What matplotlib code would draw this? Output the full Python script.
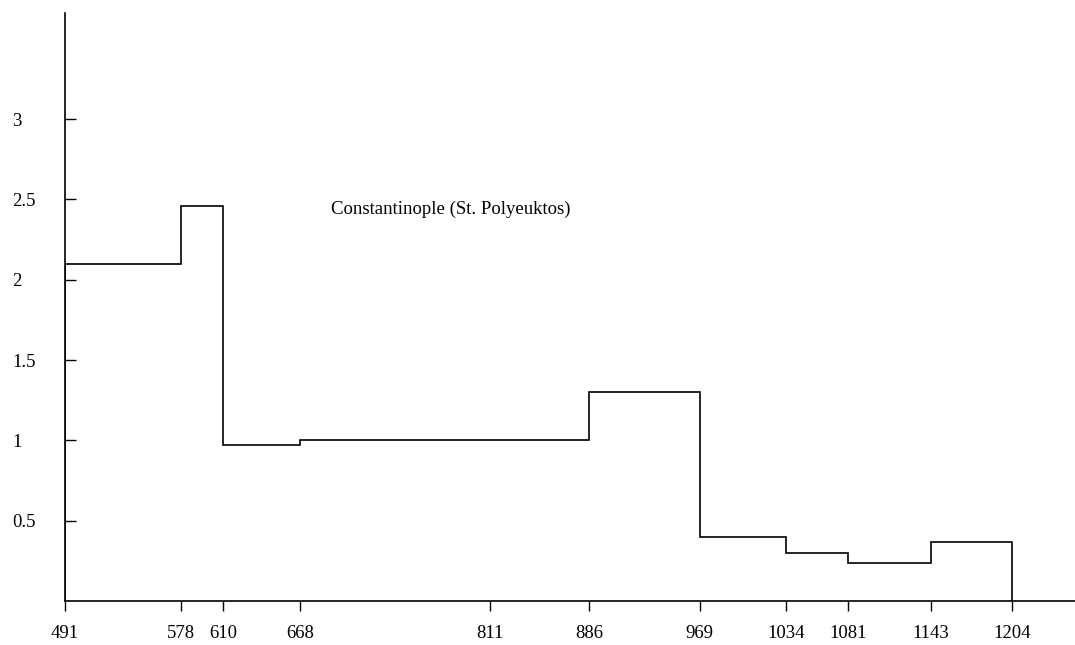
import matplotlib
matplotlib.use("Agg")
import matplotlib.pyplot as plt

plt.rcParams['font.family'] = ['Liberation Serif', 'DejaVu Serif']

# period boundaries (years) and the value for each period
edges = [491, 578, 610, 668, 886, 969, 1034, 1081, 1143, 1204]
values = [2.1, 2.46, 0.97, 1.0, 1.3, 0.4, 0.3, 0.235, 0.367]

xticks = [491, 578, 610, 668, 811, 886, 969, 1034, 1081, 1143, 1204]
yticks = [0.5, 1, 1.5, 2, 2.5, 3]
ylabels = ['0.5', '1', '1.5', '2', '2.5', '3']

fig = plt.figure(figsize=(10.75, 6.45), dpi=100)
ax = fig.add_axes([65/1075, 44/645, 1 - 65/1075, (601-13)/645])

ax.stairs(values, edges, baseline=0, color='black', linewidth=1.2)

ax.set_xlim(491, 1251.7)
ax.set_ylim(0, 3.66)

ax.set_xticks(xticks)
ax.set_xticklabels([str(t) for t in xticks])
ax.set_yticks(yticks)
ax.set_yticklabels(ylabels)

ax.spines['top'].set_visible(False)
ax.spines['right'].set_visible(False)
for s in ['left', 'bottom']:
    ax.spines[s].set_linewidth(1.2)

ax.tick_params(axis='x', direction='out', length=7.5, width=1.0, pad=10, labelsize=13.5)
ax.tick_params(axis='y', direction='in', length=8, width=1.0, pad=38, labelsize=13.5)
for lab in ax.get_yticklabels():
    lab.set_horizontalalignment('left')

ax.text(691, 2.44, 'Constantinople (St. Polyeuktos)', fontsize=13.5, va='center', ha='left')

fig.savefig('out.png', dpi=100)
